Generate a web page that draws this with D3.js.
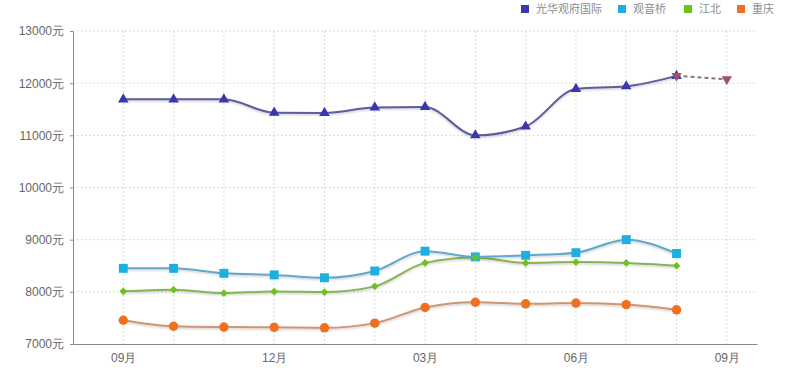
<!DOCTYPE html>
<html>
<head>
<meta charset="utf-8">
<script src="https://d3js.org/d3.v7.min.js"></script>
<style>
  html, body { margin: 0; padding: 0; background: #fff; }
  svg { display: block; font-family: "Noto Sans CJK SC", "Noto Sans", sans-serif; }
  .grid line { stroke: #cfcfcf; stroke-dasharray: 1.5,2.5; }
  .axis path, .axis line { stroke: #8a8a8a; }
  .axis text { fill: #666; font-size: 12px; }
  .legend text { fill: #8c8c8c; font-size: 11px; }
</style>
</head>
<body>
<svg id="chart" width="800" height="368"></svg>
<script>
// months along the x axis (index 0..12)
const months = ['09', '10', '11', '12', '01', '02', '03', '04', '05', '06', '07', '08', '09'];
const monthTicks = [0, 3, 6, 9, 12];
const yTicks = [7000, 8000, 9000, 10000, 11000, 12000, 13000];

// series values, one per month 09..08
const guanghua = [11690, 11690, 11690, 11435, 11430, 11535, 11545, 11000, 11170, 11890, 11940, 12140];
const guanyinqiao = [8450, 8450, 8355, 8325, 8270, 8400, 8780, 8670, 8700, 8750, 9000, 8735];
const jiangbei = [8010, 8040, 7975, 8005, 7995, 8105, 8555, 8660, 8555, 8570, 8555, 8500];
const chongqing = [7455, 7340, 7325, 7320, 7310, 7400, 7700, 7800, 7770, 7785, 7755, 7655];
// forecast segment for 光华观府国际 (months 08 -> 09)
const forecastIdx = [11, 12];
const forecast = [12140, 12075];

const series = [
  { name: '光华观府国际', values: guanghua, color: '#3a36b0', line: '#5d5b9d', symbol: d3.symbolTriangle, size: 48, rot: 0 },
  { name: '观音桥', values: guanyinqiao, color: '#1cb0e2', line: '#64a8c6', symbol: d3.symbolSquare, size: 80, rot: 0 },
  { name: '江北', values: jiangbei, color: '#6fc21c', line: '#88b355', symbol: d3.symbolSquare, size: 30, rot: 45 },
  { name: '重庆', values: chongqing, color: '#f07020', line: '#cf9676', symbol: d3.symbolCircle, size: 70, rot: 0 }
];

const svg = d3.select('#chart');
const margin = { left: 73, right: 43, top: 31, bottom: 24 };
const width = 800, height = 368;

const x = d3.scaleLinear().domain([-1, 12.6]).range([margin.left, width - margin.right]);
const y = d3.scaleLinear().domain([7000, 13000]).range([height - margin.bottom, margin.top]);

const defs = svg.append('defs');
const shadow = defs.append('filter').attr('id', 'shadow')
  .attr('x', '-5%').attr('y', '-50%').attr('width', '110%').attr('height', '200%');
shadow.append('feDropShadow').attr('dx', 0).attr('dy', 1.2).attr('stdDeviation', 1)
  .attr('flood-color', '#000').attr('flood-opacity', 0.22);

// horizontal grid
svg.append('g').attr('class', 'grid')
  .selectAll('line').data(yTicks.slice(1)).enter().append('line')
  .attr('x1', x(-1)).attr('x2', x(12.6))
  .attr('y1', d => y(d)).attr('y2', d => y(d));

// vertical grid, one per month
svg.append('g').attr('class', 'grid')
  .selectAll('line').data(d3.range(months.length)).enter().append('line')
  .attr('x1', d => x(d)).attr('x2', d => x(d))
  .attr('y1', y(13000)).attr('y2', y(7000));

// axes
svg.append('g').attr('class', 'axis')
  .attr('transform', `translate(${margin.left},0)`)
  .call(d3.axisLeft(y).tickValues(yTicks).tickSize(3).tickSizeOuter(0).tickPadding(6).tickFormat(d => d + '元'))
  .call(g => g.selectAll('line').attr('stroke', '#bbb'));

svg.append('g').attr('class', 'axis')
  .attr('transform', `translate(0,${y(7000)})`)
  .call(d3.axisBottom(x).tickValues(monthTicks).tickSize(0).tickSizeOuter(0).tickPadding(9)
    .tickFormat(i => months[i] + '月'));

const line = d3.line().x((d, i) => x(i)).y(d => y(d)).curve(d3.curveMonotoneX);

// series lines
series.slice().reverse().forEach(s => {
  svg.append('path')
    .attr('d', line(s.values))
    .attr('fill', 'none')
    .attr('stroke', s.line)
    .attr('stroke-width', 2)
    .attr('filter', 'url(#shadow)');
});

// forecast dashed line
svg.append('path')
  .attr('d', d3.line().x((d, i) => x(forecastIdx[i])).y(d => y(d))(forecast))
  .attr('fill', 'none')
  .attr('stroke', '#8d7478')
  .attr('stroke-width', 2)
  .attr('stroke-dasharray', '4,3');

// markers
series.forEach(s => {
  svg.append('g').selectAll('path').data(s.values).enter().append('path')
    .attr('transform', (d, i) => `translate(${x(i)},${y(d)}) rotate(${s.rot})`)
    .attr('d', d3.symbol().type(s.symbol).size(s.size))
    .attr('fill', s.color);
});

svg.append('g').selectAll('path').data(forecast).enter().append('path')
  .attr('transform', (d, i) => `translate(${x(forecastIdx[i])},${y(d)}) rotate(180)`)
  .attr('d', d3.symbol().type(d3.symbolTriangle).size(45))
  .attr('fill', '#a0525e');

// legend
const legendX = [521, 618, 684, 737];
const legend = svg.append('g').attr('class', 'legend');
series.forEach((s, i) => {
  legend.append('rect')
    .attr('x', legendX[i]).attr('y', 5)
    .attr('width', 8).attr('height', 8)
    .attr('fill', s.color);
  legend.append('text')
    .attr('x', legendX[i] + 15).attr('y', 13)
    .text(s.name);
});
</script>
</body>
</html>
